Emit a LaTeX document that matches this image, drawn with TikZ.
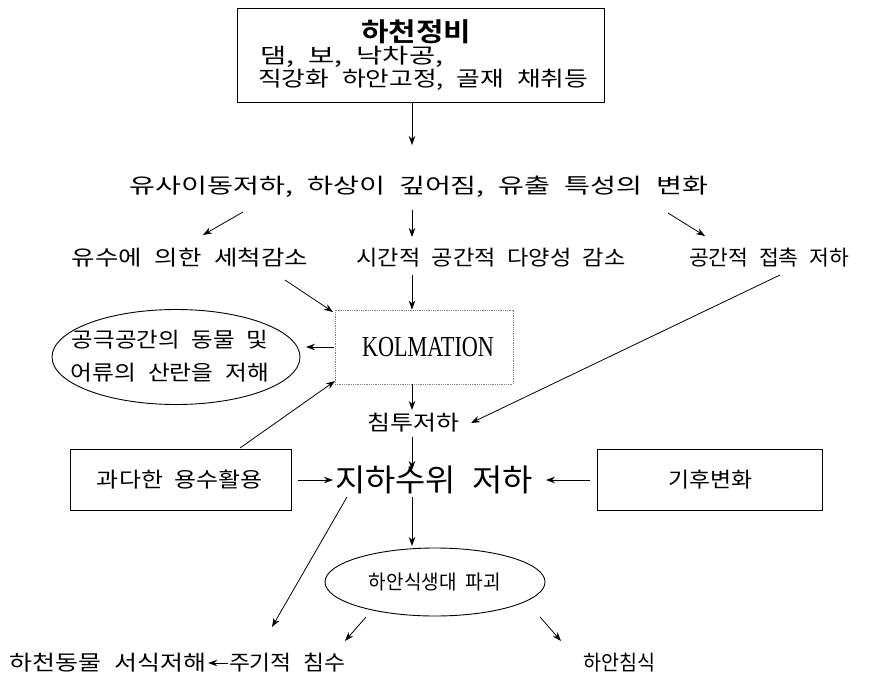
\documentclass[tikz,border=0pt]{standalone}
\usepackage{fontspec}
\usepackage{graphicx}
\usetikzlibrary{arrows.meta,calc,shapes.geometric}
\newfontfamily\kr[WordSpace=2.2]{Noto Sans CJK KR}
\newfontfamily\krb[WordSpace=2.2]{Noto Sans CJK KR Bold}
\setmainfont{Liberation Serif}
\newcommand\fitw[2]{\resizebox{#1}{\height}{#2}}
\tikzset{
  txt/.style={font=\kr\fontsize{21}{24}\selectfont, inner sep=0pt, anchor=center},
  box/.style={draw, line width=0.9pt, inner sep=0pt},
  arr/.style={-{Stealth[length=9pt,width=6.5pt]}, line width=0.8pt},
}
\begin{document}
\begin{tikzpicture}[x=1pt,y=-1pt]
\useasboundingbox (0,0) rectangle (885,679);
\fill[white] (0,0) rectangle (885,679);
% top box
\node[box, minimum width=367pt, minimum height=94pt] (top) at (420.5,55) {};
\node[font=\krb\fontsize{26}{30}\selectfont, inner sep=0pt] (title) at (416,32) {\fitw{110pt}{하천정비}};
\node[txt, anchor=west] (l2) at (260,57) {\fitw{183pt}{댐, 보, 낙차공,}};
\node[txt, anchor=west] (l3) at (258,80) {\fitw{330pt}{직강화 하안고정, 골재 채취등}};
% row 1
\node[txt] (r1) at (419,187) {\fitw{578pt}{유사이동저하, 하상이 깊어짐, 유출 특성의 변화}};
% row 2
\node[txt] (t1) at (190,258) {\fitw{236pt}{유수에 의한 세척감소}};
\node[txt] (t2) at (491,258) {\fitw{269pt}{시간적 공간적 다양성 감소}};
\node[txt] (t3) at (769,258) {\fitw{160pt}{공간적 접촉 저하}};
% kolmation
\node[draw=gray, densely dotted, line width=0.8pt, minimum width=178pt, minimum height=74pt, inner sep=0pt] (kol) at (424,347) {};
\node[font=\fontsize{29}{32}\selectfont, inner sep=0pt] (kolt) at (428,347) {\fitw{132pt}{KOLMATION}};
% ellipse 1
\node[draw, ellipse, line width=0.9pt, minimum width=248pt, minimum height=95pt, inner sep=0pt] (e1) at (176,357) {};
\node[txt] (e1a) at (170,340) {\fitw{196pt}{공극공간의 동물 및}};
\node[txt] (e1b) at (170,373) {\fitw{198pt}{어류의 산란을 저해}};
% infiltration
\node[txt] (inf) at (413,423) {\fitw{92pt}{침투저하}};
% row: boxes + groundwater
\node[box, minimum width=221pt, minimum height=61pt] (b1) at (180.5,480) {};
\node[txt] (b1t) at (180,480) {\fitw{166pt}{과다한 용수활용}};
\node[box, minimum width=225pt, minimum height=61pt] (b2) at (709.5,480) {};
\node[txt] (b2t) at (710,480) {\fitw{84pt}{기후변화}};
\node[txt, font=\kr\fontsize{31}{34}\selectfont] (gw) at (434,480) {\fitw{198pt}{지하수위 저하}};
% ellipse 2
\node[draw, ellipse, line width=0.9pt, minimum width=220pt, minimum height=68pt, inner sep=0pt] (e2) at (435,582) {};
\node[txt, font=\kr\fontsize{20}{23}\selectfont] (e2t) at (435,582) {\fitw{132pt}{하안식생대 파괴}};
% bottom row
\node[txt] (hab) at (108,663) {\fitw{196pt}{하천동물 서식저해}};
\node[txt] (fld) at (287,663) {\fitw{116pt}{주기적 침수}};
\node[txt] (ero) at (619,663) {\fitw{72pt}{하안침식}};
% arrows
\draw[arr] ($(top.south)+(-8.5,0)$) -- ($(r1)+(-7,-42)$);
\draw[arr] ($(r1)+(-176,25)$) -- ($(t1)+(13,-23)$);
\draw[arr] ($(r1)+(-7,23)$) -- ($(t2)+(-79,-21)$);
\draw[arr] ($(r1)+(249,26)$) -- ($(t3)+(-64,-22)$);
\draw[arr] ($(t2)+(-79,17)$) -- ($(kol.north)+(-12,0)$);
\draw[arr] ($(t1)+(95,22)$) -- ($(kol)+(-91,-35)$);
\draw[arr] ($(kol.west)+(-1,0)$) -- ($(e1)+(130,-10)$);
\draw[arr] ($(kol.south)+(-12,0)$) -- ($(inf)+(-1,-13)$);
\draw[arr] ($(t3)+(11,17)$) -- ($(inf)+(58,0)$);
\draw[arr] ($(b1)+(59.5,-32)$) -- ($(kol)+(-89,34)$);
\draw[arr] ($(inf)+(-1,14)$) -- ($(gw)+(-22,-10)$);
\draw[arr] ($(b1.east)+(7,0)$) -- ($(gw)+(-101,0)$);
\draw[arr] ($(b2.west)+(-7,0)$) -- ($(gw)+(112,0)$);
\draw[arr] ($(gw)+(-22,17)$) -- ($(e2)+(-23,-36)$);
\draw[arr] ($(gw)+(-87,17)$) -- ($(fld)+(-15,-36)$);
\draw[arr] ($(e2)+(-69,35)$) -- ($(fld)+(58,-22)$);
\draw[arr] ($(e2)+(105,35)$) -- ($(ero)+(-58,-22)$);
\draw[arr] ($(fld.west)+(-1,0)$) -- ($(hab.east)+(2,0)$);
\end{tikzpicture}
\end{document}
